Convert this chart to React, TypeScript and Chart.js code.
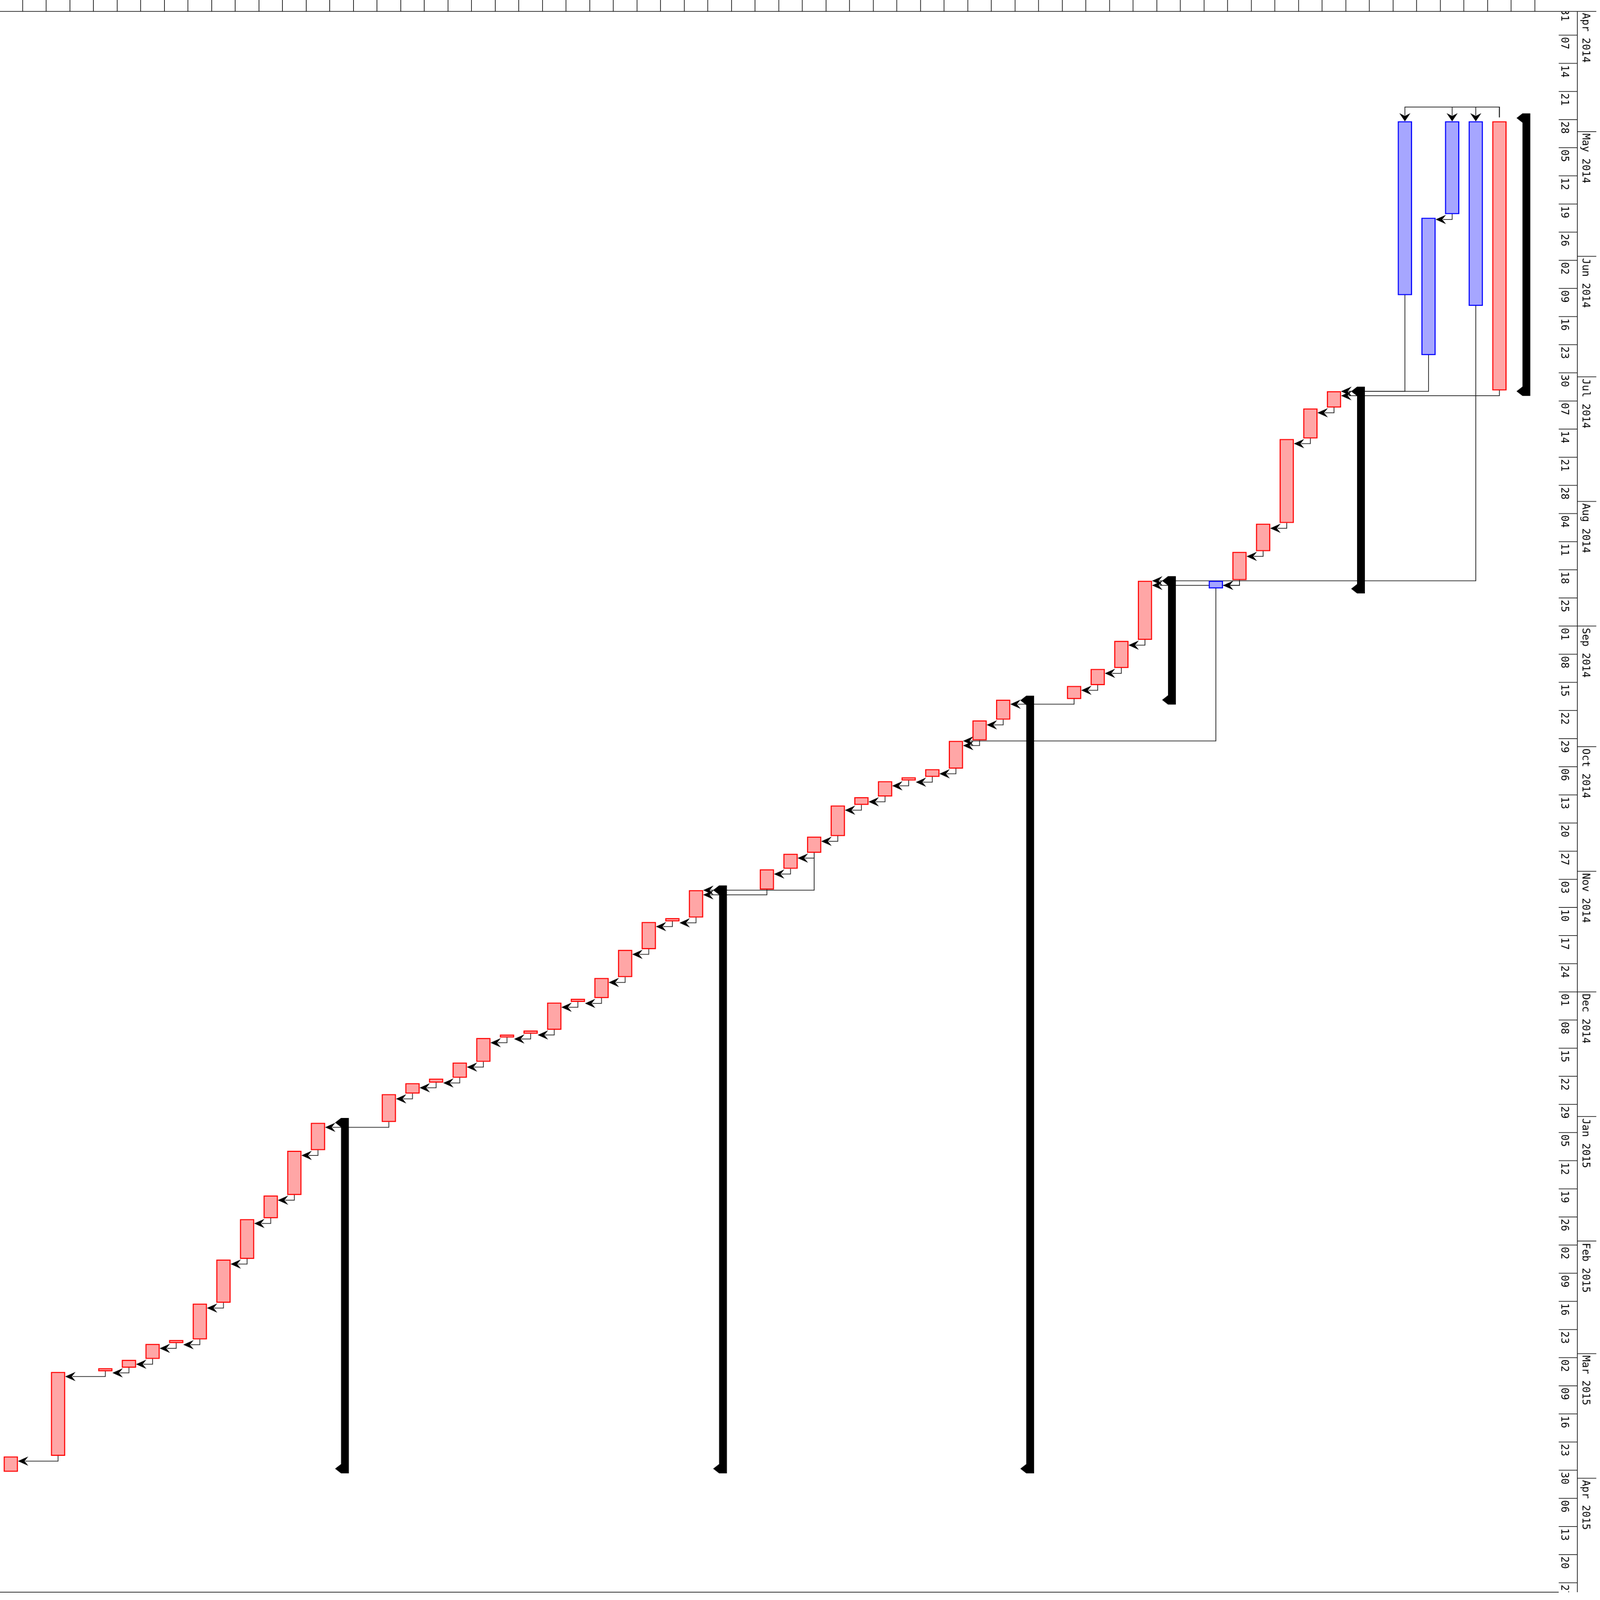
import React, { useEffect, useRef } from "react";
import { Chart, registerables } from "chart.js";

Chart.register(...registerables);

// ---------- data ----------
const ORIGIN = "2014-04-01";

// red (normal) tasks: column index (left = 0) and start / end
const redRow = [0, 2, 4, 5, 6, 7, 8, 9, 10, 11, 12, 13, 16, 17, 18, 19, 20, 21, 22, 23, 24, 25, 26, 27, 28, 29, 32, 33, 34, 35, 36, 37, 38, 39, 40, 41, 42, 45, 46, 47, 48, 52, 53, 54, 55, 56, 63];
const redStart = [
  "2015-03-26T14:24", "2015-03-05T13:40", "2015-03-04T15:36", "2015-03-02T14:00", "2015-02-26T14:24",
  "2015-02-25T15:07", "2015-02-16T13:55", "2015-02-05T15:22", "2015-01-26T13:12", "2015-01-20T16:34",
  "2015-01-09T13:26", "2015-01-02T14:10", "2014-12-26T11:02", "2014-12-23T17:31", "2014-12-22T14:24",
  "2014-12-18T14:38", "2014-12-12T12:29", "2014-12-11T15:36", "2014-12-10T15:36", "2014-12-03T16:19",
  "2014-12-02T17:46", "2014-11-27T13:26", "2014-11-20T14:10", "2014-11-13T15:07", "2014-11-12T16:34",
  "2014-11-05T17:02", "2014-10-31T13:12", "2014-10-27T15:36", "2014-10-23T09:50", "2014-10-15T15:50",
  "2014-10-13T13:55", "2014-10-09T14:38", "2014-10-08T15:07", "2014-10-06T14:53", "2014-09-29T14:10",
  "2014-09-24T12:14", "2014-09-19T08:38", "2014-09-15T22:05", "2014-09-11T16:19", "2014-09-04T17:02",
  "2014-08-20T18:00", "2014-08-13T13:12", "2014-08-06T12:58", "2014-07-16T11:46", "2014-07-08T21:07",
  "2014-07-04T14:24", "2014-04-28T10:34",
];
const redEnd = [
  "2015-03-30T08:53", "2015-03-26T09:50", "2015-03-05T08:53", "2015-03-04T11:17", "2015-03-02T07:26",
  "2015-02-26T08:24", "2015-02-25T10:33", "2015-02-16T07:40", "2015-02-05T09:21", "2015-01-26T06:58",
  "2015-01-20T12:00", "2015-01-09T08:38", "2015-01-02T08:38", "2014-12-26T06:43", "2014-12-23T12:58",
  "2014-12-22T08:10", "2014-12-18T09:07", "2014-12-12T07:55", "2014-12-11T09:36", "2014-12-10T09:36",
  "2014-12-03T11:46", "2014-12-02T12:58", "2014-11-27T07:41", "2014-11-20T08:10", "2014-11-13T10:34",
  "2014-11-12T12:00", "2014-11-05T12:29", "2014-10-31T08:38", "2014-10-27T09:07", "2014-10-23T05:17",
  "2014-10-15T11:02", "2014-10-13T09:07", "2014-10-09T09:50", "2014-10-08T12:00", "2014-10-06T10:05",
  "2014-09-29T09:36", "2014-09-24T06:00", "2014-09-19T02:38", "2014-09-15T15:36", "2014-09-11T10:05",
  "2014-09-04T09:50", "2014-08-20T12:58", "2014-08-13T08:10", "2014-08-06T08:10", "2014-07-16T06:58",
  "2014-07-08T14:38", "2014-07-04T08:38",
];

// blue tasks
const blueRow = [51, 59, 60, 61, 62];
const blueStart = ["2014-08-20T18:00", "2014-04-28T10:34", "2014-05-22T10:34", "2014-04-28T10:34", "2014-04-28T10:34"];
const blueEnd = ["2014-08-22T14:10", "2014-06-10T15:50", "2014-06-25T13:41", "2014-05-21T12:14", "2014-06-13T07:41"];

// summary (group) brackets
const summaryRow = [14, 30, 43, 49, 57, 64];
const summaryStart = ["2015-01-01T08:38", "2014-11-04T12:43", "2014-09-18T07:41", "2014-08-19T14:10", "2014-07-03T10:48", "2014-04-26T10:48"];
const summaryEnd = ["2015-03-30T18:58", "2015-03-30T18:58", "2015-03-30T18:58", "2014-09-20T12:29", "2014-08-23T20:53", "2014-07-05T17:31"];

// finish-to-start dependencies (predecessor column -> successor column)
const depFrom = [2, 4, 5, 6, 7, 8, 9, 10, 11, 12, 13, 16, 17, 18, 19, 20, 21, 22, 23, 24, 25, 26, 27, 28, 29, 32, 34, 33, 34, 35, 36, 37, 38, 39, 40, 41, 51, 42, 45, 46, 47, 48, 52, 62, 52, 53, 54, 55, 56, 59, 60, 63, 61];
const depTo = [0, 2, 4, 5, 6, 7, 8, 9, 10, 11, 12, 13, 16, 17, 18, 19, 20, 21, 22, 23, 24, 25, 26, 27, 28, 29, 29, 32, 33, 34, 35, 36, 37, 38, 39, 40, 40, 41, 42, 45, 46, 47, 48, 48, 51, 52, 53, 54, 55, 56, 56, 56, 60];
// start-to-start dependencies
const ssFrom = [63, 63, 63];
const ssTo = [59, 61, 62];

// time axis labels
const weekAxisStart = "2014-03-31";
const weekLabels = ["31", "07", "14", "21", "28", "05", "12", "19", "26", "02", "09", "16", "23", "30", "07", "14", "21", "28", "04", "11", "18", "25", "01", "08", "15", "22", "29", "06", "13", "20", "27", "03", "10", "17", "24", "01", "08", "15", "22", "29", "05", "12", "19", "26", "02", "09", "16", "23", "02", "09", "16", "23", "30", "06", "13", "20", "27"];
const monthStarts = ["2014-04-01", "2014-05-01", "2014-06-01", "2014-07-01", "2014-08-01", "2014-09-01", "2014-10-01", "2014-11-01", "2014-12-01", "2015-01-01", "2015-02-01", "2015-03-01", "2015-04-01"];
const monthLabels = ["Apr 2014", "May 2014", "Jun 2014", "Jul 2014", "Aug 2014", "Sep 2014", "Oct 2014", "Nov 2014", "Dec 2014", "Jan 2015", "Feb 2015", "Mar 2015", "Apr 2015"];
const COLUMN_COUNT = 65;

// ---------- helpers ----------
const ORIGIN_MS = Date.parse(ORIGIN + "T00:00:00Z");
const dayOf = (s: string) => {
  const iso = s.length === 10 ? s + "T00:00:00Z" : s + ":00Z";
  return (Date.parse(iso) - ORIGIN_MS) / 86400000;
};

const W = 4300;
const H = 4484;
const PLOT_RIGHT = 4189;
const AXIS_X = 4239;
const AXIS_RIGHT = 4290;
const BAR = 38;

const taskMap: Record<number, [number, number]> = {};
redRow.forEach((r, i) => (taskMap[r] = [dayOf(redStart[i]), dayOf(redEnd[i])]));
blueRow.forEach((r, i) => (taskMap[r] = [dayOf(blueStart[i]), dayOf(blueEnd[i])]));

function arrowLeft(ctx: CanvasRenderingContext2D, x: number, y: number) {
  ctx.beginPath();
  ctx.moveTo(x, y);
  ctx.lineTo(x + 28, y - 13);
  ctx.lineTo(x + 18, y);
  ctx.lineTo(x + 28, y + 13);
  ctx.closePath();
  ctx.fill();
}
function arrowDown(ctx: CanvasRenderingContext2D, x: number, y: number) {
  ctx.beginPath();
  ctx.moveTo(x, y);
  ctx.lineTo(x - 15, y - 23);
  ctx.lineTo(x, y - 15);
  ctx.lineTo(x + 15, y - 23);
  ctx.closePath();
  ctx.fill();
}

const ganttPlugin = {
  id: "ganttDecor",
  beforeDatasetsDraw(chart: any) {
    const ctx: CanvasRenderingContext2D = chart.ctx;
    const xs = chart.scales.x;
    const ys = chart.scales.y;
    ctx.save();
    ctx.strokeStyle = "#222";
    ctx.fillStyle = "#000";
    ctx.lineWidth = 2;
    // finish-to-start links
    depFrom.forEach((p, i) => {
      const s = depTo[i];
      const xp = xs.getPixelForValue(p);
      const xsu = xs.getPixelForValue(s);
      const yEnd = ys.getPixelForValue(taskMap[p][1]);
      const yTop = ys.getPixelForValue(taskMap[s][0]);
      const yy = Math.max(yTop, yEnd + 15);
      const tip = xsu + BAR / 2;
      ctx.beginPath();
      ctx.moveTo(xp, yEnd);
      ctx.lineTo(xp, yy);
      ctx.lineTo(tip + 20, yy);
      ctx.stroke();
      arrowLeft(ctx, tip, yy);
    });
    // start-to-start links
    ssFrom.forEach((p, i) => {
      const s = ssTo[i];
      const xp = xs.getPixelForValue(p);
      const xsu = xs.getPixelForValue(s);
      const yPTop = ys.getPixelForValue(taskMap[p][0]);
      const ySTop = ys.getPixelForValue(taskMap[s][0]);
      const yy = yPTop - 40;
      ctx.beginPath();
      ctx.moveTo(xp, yPTop - 11);
      ctx.lineTo(xp, yy);
      ctx.lineTo(xsu, yy);
      ctx.lineTo(xsu, ySTop - 16);
      ctx.stroke();
      arrowDown(ctx, xsu, ySTop);
    });
    ctx.restore();
  },
  afterDatasetsDraw(chart: any) {
    const ctx: CanvasRenderingContext2D = chart.ctx;
    const xs = chart.scales.x;
    const ys = chart.scales.y;
    ctx.save();
    ctx.fillStyle = "#000";
    summaryRow.forEach((r, i) => {
      const xc = xs.getPixelForValue(r);
      const top = ys.getPixelForValue(dayOf(summaryStart[i]));
      const bot = ys.getPixelForValue(dayOf(summaryEnd[i]));
      ctx.beginPath();
      ctx.moveTo(xc - 1.5, top);
      ctx.lineTo(xc + 19.5, top);
      ctx.lineTo(xc + 19.5, bot);
      ctx.lineTo(xc - 1.5, bot);
      ctx.lineTo(xc - 17.5, bot - 13);
      ctx.lineTo(xc - 1.5, bot - 26);
      ctx.lineTo(xc - 1.5, top + 26);
      ctx.lineTo(xc - 17.5, top + 13);
      ctx.closePath();
      ctx.fill();
    });
    ctx.restore();
  },
  afterDraw(chart: any) {
    const ctx: CanvasRenderingContext2D = chart.ctx;
    const xs = chart.scales.x;
    const ys = chart.scales.y;
    const { top, bottom } = chart.chartArea;
    ctx.save();
    ctx.strokeStyle = "#222";
    ctx.lineWidth = 2;
    // top border and column ticks
    ctx.beginPath();
    ctx.moveTo(0, top);
    ctx.lineTo(AXIS_RIGHT, top);
    for (let k = 0; k < COLUMN_COUNT; k++) {
      const x = Math.round(xs.getPixelForValue(k + 0.5));
      ctx.moveTo(x, 0);
      ctx.lineTo(x, top);
    }
    // bottom border
    ctx.moveTo(0, bottom);
    ctx.lineTo(PLOT_RIGHT, bottom);
    // axis spine
    ctx.moveTo(AXIS_X, top);
    ctx.lineTo(AXIS_X, bottom);
    ctx.stroke();

    // time axis (clipped to the plot height)
    ctx.beginPath();
    ctx.rect(PLOT_RIGHT - 5, top + 1, W - PLOT_RIGHT + 5, bottom - top - 1);
    ctx.clip();
    ctx.fillStyle = "#000";
    ctx.font = '29px "DejaVu Sans Mono"';
    ctx.textAlign = "left";
    ctx.textBaseline = "alphabetic";
    const w0 = dayOf(weekAxisStart);
    weekLabels.forEach((lab, i) => {
      const y = ys.getPixelForValue(w0 + 7 * i);
      ctx.beginPath();
      ctx.moveTo(PLOT_RIGHT, y);
      ctx.lineTo(AXIS_X, y);
      ctx.stroke();
      ctx.save();
      ctx.translate(4196, y + 5);
      ctx.rotate(Math.PI / 2);
      ctx.fillText(lab, 0, 0);
      ctx.restore();
    });
    monthStarts.forEach((m, i) => {
      const y = ys.getPixelForValue(dayOf(m));
      ctx.beginPath();
      ctx.moveTo(AXIS_X, y);
      ctx.lineTo(AXIS_RIGHT, y);
      ctx.stroke();
      ctx.save();
      ctx.translate(4253, y + 5);
      ctx.rotate(Math.PI / 2);
      ctx.fillText(monthLabels[i], 0, 0);
      ctx.restore();
    });
    ctx.restore();
  },
};

export default function App() {
  const ref = useRef<HTMLCanvasElement | null>(null);
  useEffect(() => {
    document.documentElement.style.margin = "0";
    document.body.style.margin = "0";
    document.body.style.overflow = "hidden";
    if (!ref.current) return;
    const chart = new Chart(ref.current, {
      type: "bar",
      data: {
        datasets: [
          {
            label: "tasks",
            data: redRow.map((r, i) => ({ x: r, y: [dayOf(redStart[i]), dayOf(redEnd[i])] })) as any,
            backgroundColor: "#ffa6a6",
            borderColor: "#ff0000",
            borderWidth: 3,
            borderSkipped: false,
            barThickness: BAR,
            grouped: false,
          },
          {
            label: "critical",
            data: blueRow.map((r, i) => ({ x: r, y: [dayOf(blueStart[i]), dayOf(blueEnd[i])] })) as any,
            backgroundColor: "#a6a6ff",
            borderColor: "#0000ff",
            borderWidth: 3,
            borderSkipped: false,
            barThickness: BAR,
            grouped: false,
          },
        ],
      },
      options: {
        animation: false,
        responsive: false,
        devicePixelRatio: 1,
        indexAxis: "x",
        layout: { padding: { left: 0, top: 32, right: W - PLOT_RIGHT, bottom: H - 4462 } },
        scales: {
          x: { type: "linear", offset: false, min: -0.4567, max: 65.51, display: false },
          y: { type: "linear", reverse: true, offset: false, min: 0.089, max: 393.34, display: false },
        },
        plugins: { legend: { display: false }, tooltip: { enabled: false } },
      },
      plugins: [ganttPlugin],
    });
    return () => chart.destroy();
  }, []);
  return (
    <div style={{ position: "fixed", left: 0, top: 0, width: "100vw", height: "100vh", background: "#fff", overflow: "hidden" }}>
      <canvas
        ref={ref}
        width={W}
        height={H}
        style={{ display: "block", width: "100vw", height: "100vh" }}
      />
    </div>
  );
}
